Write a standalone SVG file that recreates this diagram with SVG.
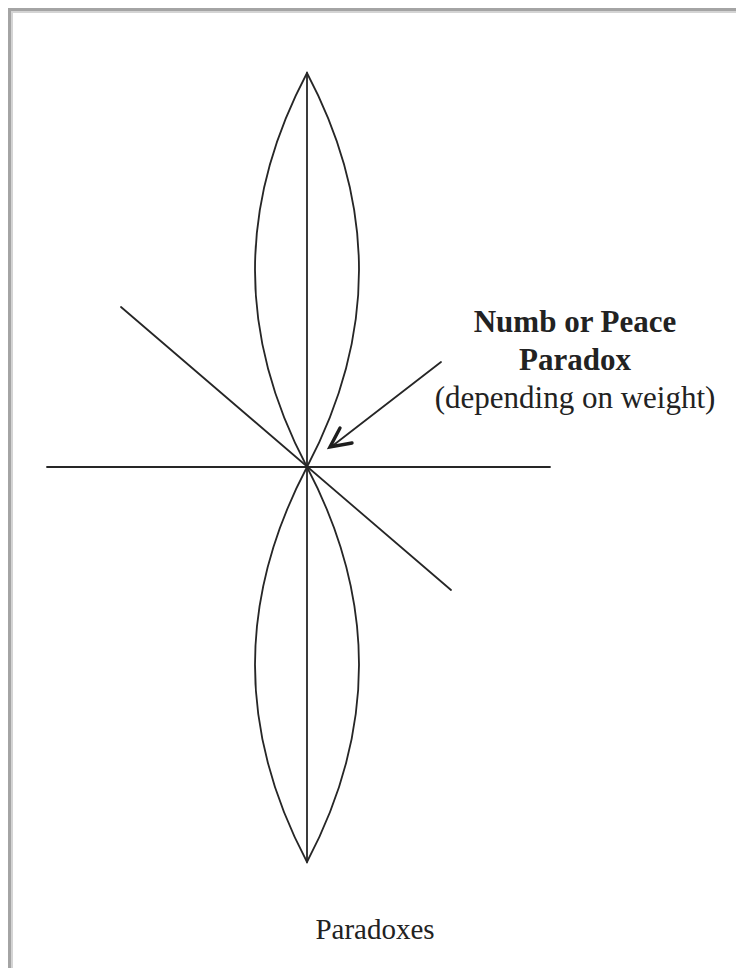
<svg xmlns="http://www.w3.org/2000/svg" width="736" height="968" viewBox="0 0 736 968">
  <style>
    .ln { stroke: #262626; stroke-width: 1.8; fill: none; stroke-linecap: round; }
    .head { stroke: #1e1e1e; stroke-width: 3.4; fill: none; stroke-linecap: round; stroke-linejoin: miter; }
    .t { font-family: "Liberation Serif", "Times New Roman", serif; fill: #222; text-anchor: middle; }
    .b { font-weight: bold; font-size: 31px; }
    .r { font-size: 31px; }
  </style>
  <rect x="0" y="0" width="736" height="968" fill="#ffffff"/>
  <g id="frame">
    <rect x="8" y="8" width="728" height="3" fill="#a4a4a4"/>
    <rect x="11" y="11" width="725" height="2" fill="#d4d4d4"/>
    <rect x="8" y="8" width="3" height="960" fill="#a4a4a4"/>
    <rect x="11" y="11" width="2" height="957" fill="#d4d4d4"/>
  </g>
  <g id="figure">
    <line class="ln" x1="307" y1="73" x2="307" y2="862"/>
    <line class="ln" x1="47" y1="467" x2="550" y2="467"/>
    <line class="ln" x1="121" y1="307" x2="451" y2="590"/>
    <path id="lens-top" class="ln" d="M307,73 Q203,270 307,467 Q411,270 307,73 Z"/>
    <path id="lens-bottom" class="ln" d="M307,467 Q203,665 307,862 Q411,665 307,467 Z"/>
  </g>
  <g id="connectors">
    <path class="ln" d="M441,362 L331,447"/>
    <path class="head" d="M340,428 L330,447 L352,443"/>
  </g>
  <g id="label-paradox">
    <text class="t b" x="575" y="332">Numb or Peace</text>
    <text class="t b" x="575" y="370">Paradox</text>
    <text class="t r" x="575" y="408">(depending on weight)</text>
  </g>
  <g id="caption">
    <text class="t" x="375" y="939" font-size="29">Paradoxes</text>
  </g>
</svg>
